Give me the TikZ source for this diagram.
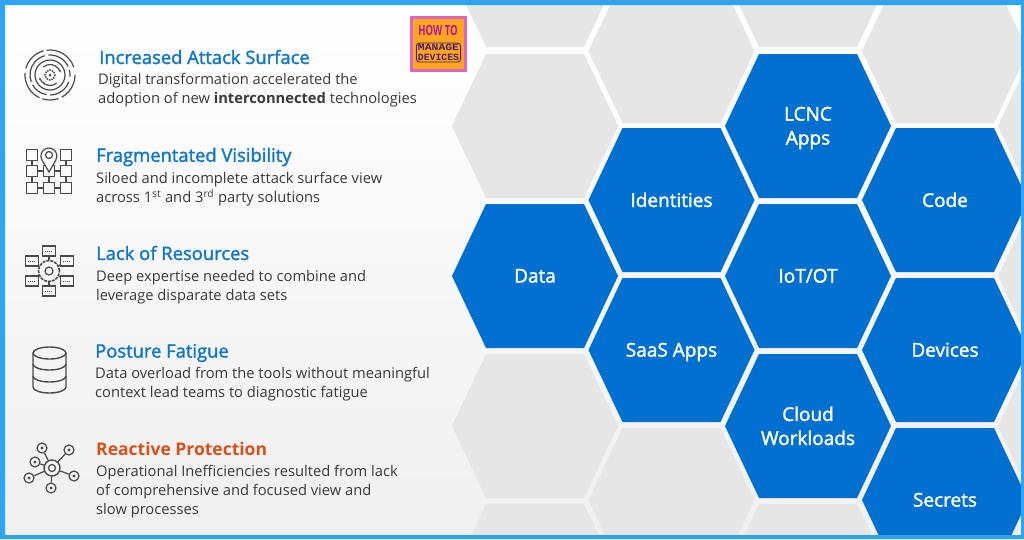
\documentclass[tikz,border=0pt]{standalone}
\usepackage{fontspec}
\setmainfont{Open Sans}
\newfontfamily\headfont[FakeBold=1.7]{Open Sans}
\newfontfamily\logofont{Liberation Mono}
\usetikzlibrary{arrows.meta}

\definecolor{frameblue}{HTML}{2FA3F5}
\definecolor{hexblue}{HTML}{0070D0}
\definecolor{hexgray}{HTML}{E6E6E6}
\definecolor{headblue}{HTML}{1277C4}
\definecolor{headorange}{HTML}{D8501C}
\definecolor{bodygray}{HTML}{3A3A3A}
\definecolor{icongray}{HTML}{4A4A4A}
\definecolor{logopink}{HTML}{D966C4}
\definecolor{logoorange}{HTML}{FFA51E}
\definecolor{logopurple}{HTML}{B5179E}
\definecolor{logodark}{HTML}{4A1A6B}

\newcommand{\hexpath}[2]{(#1-83,#2) -- (#1-49,#2-72) -- (#1+49,#2-72) -- (#1+83,#2) -- (#1+49,#2+72) -- (#1-49,#2+72) -- cycle}

\tikzset{
    hexlabel/.style={text=white,align=center,yshift=-2pt,execute at end node=\vphantom{Ap},font=\headfont\fontsize{19}{24}\selectfont},
    headline/.style={right,text=headblue,font=\headfont\fontsize{18.4}{20}\selectfont,inner sep=0pt},
    bodyline/.style={right,text=bodygray,align=left,font=\fontsize{14.7}{19}\selectfont,inner sep=0pt},
    icon/.style={icongray,line width=1.2pt},
    folder/.style={draw=icongray,line width=1.2pt,minimum width=13pt,minimum height=10pt,inner sep=0pt},
    sqbox/.style={draw=icongray,line width=1.2pt,minimum width=11pt,minimum height=11pt,inner sep=0pt},
}

\begin{document}
\begin{tikzpicture}[x=1pt,y=-1pt]
    \useasboundingbox (0,0) rectangle (1024,539);

    % Fond
    \shade[top color=white,middle color=white,bottom color=black!6] (0,0) rectangle (1024,539);

    % Hexagones
    \begin{scope}
        \clip (5,5) rectangle (1021,535);
        \foreach \x/\y in {535/-25,535/126,535/426,535/576,671.5/51,671.5/500,808/-25,808/576,945/51,1081/126,1081/276,1081/426} {
            \fill[hexgray] \hexpath{\x}{\y};
        }
        \foreach \x/\y/\n/\t in {535/276/data/Data,671.5/200/identities/Identities,671.5/350/saas/SaaS Apps,808/126/lcnc/{LCNC\\Apps},808/276/iot/{IoT/OT},808/426/cloud/{Cloud\\Workloads},945/200/code/Code,945/350/devices/Devices,945/500/secrets/Secrets} {
            \fill[hexblue] \hexpath{\x}{\y};
            \node[hexlabel] (\n) at (\x,\y) {\t};
        }
    \end{scope}

    % Cadre
    \fill[frameblue,even odd rule] (0,0) rectangle (1024,539) (5,5) rectangle (1021,535);

    % Logo
    \fill[logoorange,draw=logopink,line width=3pt] (411.5,17.5) rectangle (465.5,70.5);
    \node[text=logopurple,font=\bfseries\fontsize{14}{14}\selectfont] (howto) at (438,30) {\scalebox{0.68}[1]{HOW TO}};
    \node[draw=logodark,rounded corners=3pt,line width=0.9pt,text=logodark,align=center,inner xsep=1.5pt,inner ysep=1pt,font=\logofont\bfseries\fontsize{9.5}{10.5}\selectfont] (manage) at (438.5,52.5) {\scalebox{1.2}[1]{MANAGE}\\\scalebox{1.03}[1]{DEVICES}};

    % Textes
    \node[headline] (head1) at (99,57) {Increased Attack Surface};
    \node[bodyline] (body1) at (98,90.5) {Digital transformation accelerated the\\adoption of new \textbf{interconnected} technologies};

    \node[headline] (head2) at (96,157) {Fragmentated Visibility};
    \node[bodyline] (body2) at (96,189.5) {Siloed and incomplete attack surface view\\across 1\textsuperscript{st} and 3\textsuperscript{rd} party solutions};

    \node[headline] (head3) at (96,253) {Lack of Resources};
    \node[bodyline] (body3) at (96,287.5) {Deep expertise needed to combine and\\leverage disparate data sets};

    \node[headline] (head4) at (95,353) {Posture Fatigue};
    \node[bodyline] (body4) at (95,384.5) {Data overload from the tools without meaningful\\context lead teams to diagnostic fatigue};

    \node[headline,text=headorange,font=\bfseries\fontsize{17.5}{20}\selectfont] (head5) at (96,449) {Reactive Protection};
    \node[bodyline] (body5) at (96,492) {Operational Inefficiencies resulted from lack\\of comprehensive and focused view and\\slow processes};

    % Icone 1 : anneaux
    \foreach \r/\a/\da in {25/0/62,25/70/38,25/115/70,25/195/60,25/262/80,20/20/70,20/100/50,20/160/95,20/265/70,20/345/20} {
        \draw[icon] ([shift={(\a:\r)}]50,75) arc[start angle=\a,delta angle=\da,radius=\r];
    }
    \draw[icon] (50,75) circle (15);
    \draw[icon,dash pattern=on 1.4pt off 1.1pt,line width=1.6pt] (50,75) circle (5);
    \fill[icongray] (50,75) circle (1.5);
    \draw[icon,-{Latex[length=3pt]}] ([shift={(-130:10.5)}]50,75) arc[start angle=-130,end angle=-10,radius=10.5];
    \draw[icon,-{Latex[length=3pt]}] ([shift={(50:10.5)}]50,75) arc[start angle=50,end angle=170,radius=10.5];

    % Icone 2 : grille et repere
    \foreach \x/\y/\n in {32/155/a,66/155/c,32/171/d,49/171/e,66/171/f,32/188/g,49/188/h,66/188/i} {
        \node[sqbox] (sq\n) at (\x,\y) {};
    }
    \foreach \s/\e in {sqa/sqd,sqc/sqf,sqd/sqe,sqe/sqf,sqd/sqg,sqe/sqh,sqf/sqi,sqg/sqh,sqh/sqi} {
        \draw[icon] (\s) -- (\e);
    }
    \fill[white] (49,172) -- (41.5,160) arc[start angle=155,end angle=385,radius=8.2] -- cycle;
    \draw[icon] (49,172) -- (42,160) arc[start angle=150,end angle=390,radius=8] -- cycle;
    \draw[icon] (49,155) circle (3.5);

    % Icone 3 : engrenage et dossiers
    \node[circle,draw=icongray,line width=1.6pt,dash pattern=on 3pt off 1pt,minimum size=21pt,inner sep=0pt] (gear) at (49,271) {};
    \node[circle,draw=icongray,line width=1.2pt,minimum size=8pt,inner sep=0pt] (hub) at (49,271) {};
    \foreach \x/\y/\n in {49/251/a,32/261/b,67/261/c,32/281/d,67/281/e,49/291/f} {
        \node[folder] (dir\n) at (\x,\y) {};
        \draw[icongray,line width=0.8pt,dash pattern=on 1pt off 1pt] ([xshift=-4pt]dir\n.center) -- ([xshift=4pt]dir\n.center);
        \draw[icon] (dir\n) -- (gear);
    }

    % Icone 4 : cylindre
    \draw[icon,line width=1.4pt] (33,353) -- (33,387) arc[start angle=180,end angle=0,x radius=16.5,y radius=6] -- (66,353);
    \draw[icon,line width=1.4pt] (49.5,353) ellipse (16.5 and 6);
    \draw[icon,line width=1.4pt] (33,364) arc[start angle=180,end angle=0,x radius=16.5,y radius=6];
    \draw[icon,line width=1.4pt] (33,376) arc[start angle=180,end angle=0,x radius=16.5,y radius=6];

    % Icone 5 : reseau
    \node[circle,draw=icongray,line width=1.4pt,minimum size=16pt,inner sep=0pt] (net) at (52,468) {};
    \node[circle,draw=icongray,line width=1.2pt,minimum size=7pt,inner sep=0pt] at (52,468) {};
    \foreach \x/\y/\n in {42/448/a,69/450/b,35/462/c,29/478/d,74/476/e,51/488/f} {
        \node[circle,draw=icongray,line width=1.2pt,minimum size=10pt,inner sep=0pt] (sat\n) at (\x,\y) {};
        \fill[icongray] (sat\n) circle (1.6);
        \draw[icon] (sat\n) -- (net);
    }
\end{tikzpicture}
\end{document}
